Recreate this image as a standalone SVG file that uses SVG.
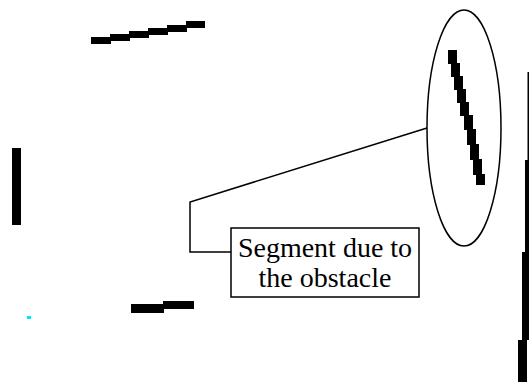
<svg xmlns="http://www.w3.org/2000/svg" width="529" height="382" viewBox="0 0 529 382">
<style>
.seg{fill:#000}
.ln{fill:none;stroke:#000;stroke-width:1.5}
.lbl{font-family:"Liberation Serif","Times New Roman",serif;font-size:28px;fill:#000;text-anchor:middle}
</style>
<rect width="529" height="382" fill="#fff"/>
<g id="top-segment" class="seg">
<rect x="91" y="37" width="20" height="7"/>
<rect x="110" y="34" width="20" height="7"/>
<rect x="129" y="31" width="20" height="7"/>
<rect x="148" y="28" width="20" height="7"/>
<rect x="167" y="25" width="20" height="7"/>
<rect x="186" y="21" width="19" height="7"/>
</g>
<g id="left-segment" class="seg">
<rect x="12" y="148" width="9" height="77"/>
</g>
<g id="bottom-segment" class="seg">
<rect x="131" y="304" width="33" height="9"/>
<rect x="163" y="301" width="31" height="8"/>
</g>
<rect id="cyan-dot" x="27" y="316" width="4" height="3" fill="#00e5ff"/>
<g id="right-segments" class="seg">
<rect x="527.5" y="72" width="1.5" height="88"/>
<rect x="525" y="160" width="4" height="93"/>
<rect x="522" y="252" width="7" height="88"/>
<rect x="518" y="340" width="9" height="42"/>
</g>
<g id="obstacle-segment" class="seg">
<rect x="448" y="50" width="9" height="14"/>
<rect x="451" y="63" width="9" height="14"/>
<rect x="454" y="76" width="9" height="14"/>
<rect x="457" y="89" width="9" height="14"/>
<rect x="460" y="102" width="9" height="14"/>
<rect x="464" y="115" width="9" height="15"/>
<rect x="467" y="129" width="9" height="16"/>
<rect x="470" y="144" width="9" height="16"/>
<rect x="473" y="159" width="9" height="16"/>
<rect x="476" y="174" width="9" height="11"/>
</g>
<g id="ellipse">
<ellipse cx="464" cy="128" rx="37" ry="118" class="ln"/>
</g>
<g id="connectors">
<polyline points="427,128 190,202 190,252 231,252" class="ln"/>
</g>
<g id="label">
<rect x="231" y="228" width="188" height="69" class="ln" fill="#fff"/>
<text x="325" y="257" class="lbl">Segment due to</text>
<text x="325" y="287" class="lbl">the obstacle</text>
</g>
</svg>
